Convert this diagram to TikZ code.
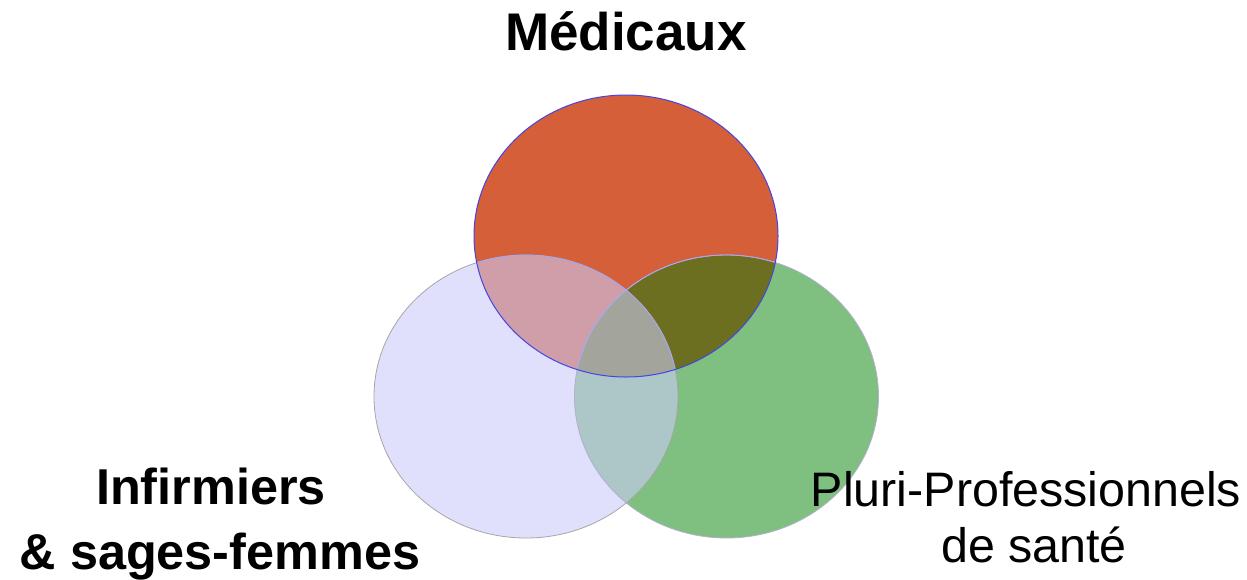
\documentclass[tikz,border=0pt]{standalone}
\usepackage{fontspec}
\setmainfont{Liberation Sans}
\definecolor{medred}{RGB}{213,95,56}
\definecolor{inflav}{RGB}{224,224,252}
\definecolor{plugreen}{RGB}{127,191,127}
\definecolor{medinf}{RGB}{208,158,168}
\definecolor{medplu}{RGB}{108,111,31}
\definecolor{infplu}{RGB}{173,198,200}
\definecolor{allthree}{RGB}{163,165,157}
\tikzset{
  toplabel/.style={font=\fontsize{26.5}{30}\selectfont\bfseries, anchor=base},
  leftlabel/.style={font=\fontsize{25.2}{30}\selectfont\bfseries, anchor=base},
  rightlabel/.style={font=\fontsize{24.2}{28}\selectfont, anchor=base}
}
\def\med{(626,236) ellipse [x radius=152, y radius=141]}
\def\inf{(526,396.5) ellipse [x radius=152, y radius=141.5]}
\def\plu{(726.5,396.5) ellipse [x radius=152, y radius=141.5]}
\begin{document}
\begin{tikzpicture}[x=0.5pt,y=-0.5pt]
    \useasboundingbox (0,0) rectangle (1247,579);
    \fill[inflav] \inf;
    \fill[plugreen] \plu;
    \fill[medred] \med;
    \begin{scope}
      \clip \med;
      \fill[medinf] \inf;
      \fill[medplu] \plu;
    \end{scope}
    \begin{scope}
      \clip \inf;
      \fill[infplu] \plu;
    \end{scope}
    \begin{scope}
      \clip \med;
      \clip \inf;
      \fill[allthree] \plu;
    \end{scope}
    \draw[line width=0.4pt, gray!70] \inf;
    \draw[line width=0.4pt, blue!20!gray!50] \plu;
    \begin{scope}
      \clip \med;
      \draw[line width=0.4pt, blue!35!white] \inf;
      \draw[line width=0.4pt, blue!35!white] \plu;
    \end{scope}
    \draw[line width=0.5pt, blue!70!white!90!black] \med;
    \node[toplabel] (med) at (626,50) {Médicaux};
    \node[leftlabel] (inf1) at (211,504) {Infirmiers};
    \node[leftlabel] (inf2) at (220,569) {\& sages-femmes};
    \node[rightlabel] (plu1) at (1026,506) {Pluri-Professionnels};
    \node[rightlabel] (plu2) at (1034,562) {de santé};
\end{tikzpicture}
\end{document}
